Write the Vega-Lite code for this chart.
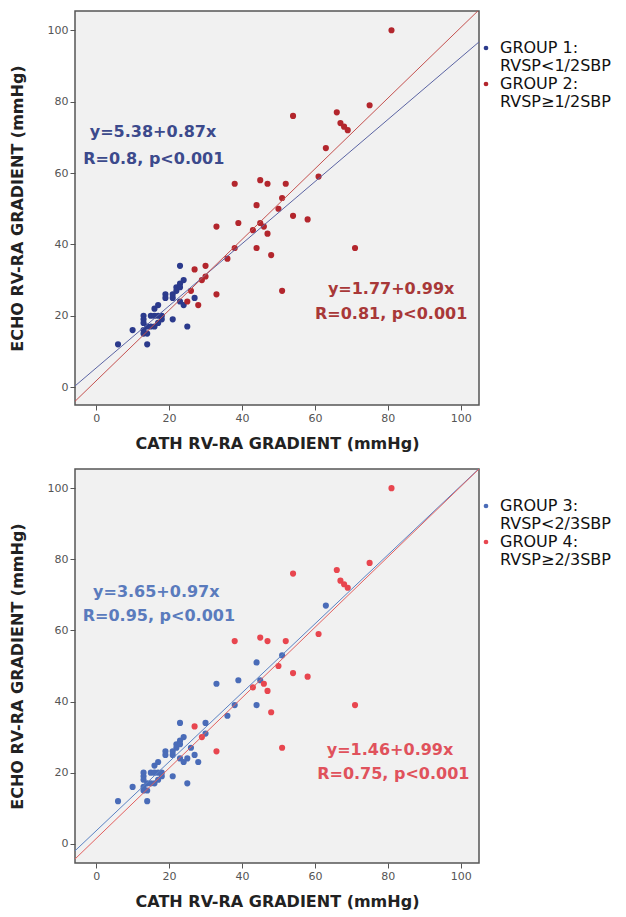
{
  "$schema": "https://vega.github.io/schema/vega-lite/v6.json",
  "background": "white",
  "padding": {"left": 8, "top": 10, "right": 0, "bottom": 0},
  "config": {
    "font": "DejaVu Sans",
    "view": {"fill": "#f1f1f1", "stroke": "#555555", "strokeWidth": 1.5},
    "axis": {
      "grid": false, "domain": false, "ticks": true, "tickSize": 5, "tickColor": "#555555",
      "labelFont": "DejaVu Sans", "labelFontSize": 11, "labelColor": "#555555",
      "titleFont": "DejaVu Sans", "titleFontSize": 16, "titleFontWeight": "bold", "titleColor": "#222222"
    },
    "legend": {"labelFont": "DejaVu Sans", "labelFontSize": 16, "labelColor": "#111111", "padding": 0}
  },
  "datasets": {
    "pts": [
      {"x": 6, "y": 12, "gt": "1", "gb": "3"},
      {"x": 14, "y": 12, "gt": "1", "gb": "3"},
      {"x": 10, "y": 16, "gt": "1", "gb": "3"},
      {"x": 13, "y": 20, "gt": "1", "gb": "3"},
      {"x": 13, "y": 19, "gt": "1", "gb": "3"},
      {"x": 13, "y": 18, "gt": "1", "gb": "3"},
      {"x": 13, "y": 16, "gt": "1", "gb": "3"},
      {"x": 13, "y": 15, "gt": "1", "gb": "3"},
      {"x": 14, "y": 15, "gt": "1", "gb": "3"},
      {"x": 14, "y": 17, "gt": "1", "gb": "3"},
      {"x": 15, "y": 17, "gt": "1", "gb": "3"},
      {"x": 15, "y": 20, "gt": "1", "gb": "3"},
      {"x": 16, "y": 17, "gt": "1", "gb": "3"},
      {"x": 16, "y": 20, "gt": "1", "gb": "3"},
      {"x": 16, "y": 22, "gt": "1", "gb": "3"},
      {"x": 17, "y": 23, "gt": "1", "gb": "3"},
      {"x": 17, "y": 20, "gt": "1", "gb": "3"},
      {"x": 17, "y": 18, "gt": "1", "gb": "3"},
      {"x": 18, "y": 20, "gt": "1", "gb": "3"},
      {"x": 18, "y": 19, "gt": "1", "gb": "3"},
      {"x": 21, "y": 19, "gt": "1", "gb": "3"},
      {"x": 19, "y": 26, "gt": "1", "gb": "3"},
      {"x": 19, "y": 25, "gt": "1", "gb": "3"},
      {"x": 21, "y": 25, "gt": "1", "gb": "3"},
      {"x": 21, "y": 26, "gt": "1", "gb": "3"},
      {"x": 22, "y": 28, "gt": "1", "gb": "3"},
      {"x": 22, "y": 27, "gt": "1", "gb": "3"},
      {"x": 23, "y": 29, "gt": "1", "gb": "3"},
      {"x": 23, "y": 28, "gt": "1", "gb": "3"},
      {"x": 24, "y": 30, "gt": "1", "gb": "3"},
      {"x": 23, "y": 34, "gt": "1", "gb": "3"},
      {"x": 23, "y": 24, "gt": "1", "gb": "3"},
      {"x": 24, "y": 23, "gt": "1", "gb": "3"},
      {"x": 25, "y": 17, "gt": "1", "gb": "3"},
      {"x": 27, "y": 25, "gt": "1", "gb": "3"},
      {"x": 25, "y": 24, "gt": "2", "gb": "3"},
      {"x": 26, "y": 27, "gt": "2", "gb": "3"},
      {"x": 28, "y": 23, "gt": "2", "gb": "3"},
      {"x": 30, "y": 34, "gt": "2", "gb": "3"},
      {"x": 30, "y": 31, "gt": "2", "gb": "3"},
      {"x": 36, "y": 36, "gt": "2", "gb": "3"},
      {"x": 38, "y": 39, "gt": "2", "gb": "3"},
      {"x": 33, "y": 45, "gt": "2", "gb": "3"},
      {"x": 39, "y": 46, "gt": "2", "gb": "3"},
      {"x": 44, "y": 51, "gt": "2", "gb": "3"},
      {"x": 51, "y": 53, "gt": "2", "gb": "3"},
      {"x": 44, "y": 39, "gt": "2", "gb": "3"},
      {"x": 45, "y": 46, "gt": "2", "gb": "3"},
      {"x": 63, "y": 67, "gt": "2", "gb": "3"},
      {"x": 27, "y": 33, "gt": "2", "gb": "4"},
      {"x": 29, "y": 30, "gt": "2", "gb": "4"},
      {"x": 33, "y": 26, "gt": "2", "gb": "4"},
      {"x": 43, "y": 44, "gt": "2", "gb": "4"},
      {"x": 46, "y": 45, "gt": "2", "gb": "4"},
      {"x": 47, "y": 43, "gt": "2", "gb": "4"},
      {"x": 50, "y": 50, "gt": "2", "gb": "4"},
      {"x": 48, "y": 37, "gt": "2", "gb": "4"},
      {"x": 54, "y": 48, "gt": "2", "gb": "4"},
      {"x": 58, "y": 47, "gt": "2", "gb": "4"},
      {"x": 71, "y": 39, "gt": "2", "gb": "4"},
      {"x": 51, "y": 27, "gt": "2", "gb": "4"},
      {"x": 38, "y": 57, "gt": "2", "gb": "4"},
      {"x": 45, "y": 58, "gt": "2", "gb": "4"},
      {"x": 47, "y": 57, "gt": "2", "gb": "4"},
      {"x": 52, "y": 57, "gt": "2", "gb": "4"},
      {"x": 61, "y": 59, "gt": "2", "gb": "4"},
      {"x": 54, "y": 76, "gt": "2", "gb": "4"},
      {"x": 66, "y": 77, "gt": "2", "gb": "4"},
      {"x": 67, "y": 74, "gt": "2", "gb": "4"},
      {"x": 68, "y": 73, "gt": "2", "gb": "4"},
      {"x": 69, "y": 72, "gt": "2", "gb": "4"},
      {"x": 75, "y": 79, "gt": "2", "gb": "4"},
      {"x": 81, "y": 100, "gt": "2", "gb": "4"}
    ],
    "lines": [
      {"g": "1", "x": -10, "y": -3.32},
      {"g": "1", "x": 110, "y": 101.08},
      {"g": "2", "x": -10, "y": -8.13},
      {"g": "2", "x": 110, "y": 110.67},
      {"g": "3", "x": -10, "y": -6.05},
      {"g": "3", "x": 110, "y": 110.35},
      {"g": "4", "x": -10, "y": -8.44},
      {"g": "4", "x": 110, "y": 110.36}
    ],
    "notes": [
      {"g": "1", "x": 15.6, "y": 71.4, "label": "y=5.38+0.87x"},
      {"g": "1", "x": 15.8, "y": 63.8, "label": "R=0.8, p<0.001"},
      {"g": "2", "x": 80.9, "y": 27.6, "label": "y=1.77+0.99x"},
      {"g": "2", "x": 80.9, "y": 20.6, "label": "R=0.81, p<0.001"},
      {"g": "3", "x": 16.5, "y": 70.7, "label": "y=3.65+0.97x"},
      {"g": "3", "x": 17.2, "y": 64.1, "label": "R=0.95, p<0.001"},
      {"g": "4", "x": 80.6, "y": 26.5, "label": "y=1.46+0.99x"},
      {"g": "4", "x": 81.5, "y": 19.5, "label": "R=0.75, p<0.001"}
    ]
  },
  "vconcat": [
    {
      "width": 404, "height": 394,
      "layer": [
        {
          "data": {"name": "pts"},
          "mark": {"type": "circle", "size": 38, "opacity": 1},
          "encoding": {
            "x": {"field": "x", "type": "quantitative", "scale": {"domain": [-5.8, 105], "nice": false, "zero": false}, "axis": {"values": [0, 20, 40, 60, 80, 100], "title": "CATH RV-RA GRADIENT (mmHg)", "titlePadding": 12}},
            "y": {"field": "y", "type": "quantitative", "scale": {"domain": [-5, 105.4], "nice": false, "zero": false}, "axis": {"values": [0, 20, 40, 60, 80, 100], "title": "ECHO RV-RA GRADIENT (mmHg)", "titlePadding": 22}},
            "color": {"field": "gt", "type": "nominal", "scale": {"domain": ["1", "2"], "range": ["#2b3a8c", "#b3262d"]},
              "legend": {"title": null, "orient": "none", "legendX": 403, "legendY": 29, "symbolSize": 22, "symbolType": "circle", "labelExpr": "datum.label == '1' ? ['GROUP 1:', 'RVSP<1/2SBP'] : ['GROUP 2:', 'RVSP≥1/2SBP']", "labelOffset": 6}}
          }
        },
        {
          "data": {"name": "lines"},
          "transform": [{"filter": "datum.g == '1'"}],
          "mark": {"type": "line", "clip": true, "strokeWidth": 1, "color": "#5b64a3"},
          "encoding": {"x": {"field": "x", "type": "quantitative"}, "y": {"field": "y", "type": "quantitative"}}
        },
        {
          "data": {"name": "lines"},
          "transform": [{"filter": "datum.g == '2'"}],
          "mark": {"type": "line", "clip": true, "strokeWidth": 1, "color": "#c4514f"},
          "encoding": {"x": {"field": "x", "type": "quantitative"}, "y": {"field": "y", "type": "quantitative"}}
        },
        {
          "data": {"name": "notes"},
          "transform": [{"filter": "datum.g == '1'"}],
          "mark": {"type": "text", "fontSize": 16, "fontWeight": "bold", "color": "#3c4a8c", "align": "center", "baseline": "middle"},
          "encoding": {"x": {"field": "x", "type": "quantitative"}, "y": {"field": "y", "type": "quantitative"}, "text": {"field": "label"}}
        },
        {
          "data": {"name": "notes"},
          "transform": [{"filter": "datum.g == '2'"}],
          "mark": {"type": "text", "fontSize": 16, "fontWeight": "bold", "color": "#a83838", "align": "center", "baseline": "middle"},
          "encoding": {"x": {"field": "x", "type": "quantitative"}, "y": {"field": "y", "type": "quantitative"}, "text": {"field": "label"}}
        }
      ]
    },
    {
      "width": 404, "height": 394,
      "layer": [
        {
          "data": {"name": "pts"},
          "mark": {"type": "circle", "size": 38, "opacity": 1},
          "encoding": {
            "x": {"field": "x", "type": "quantitative", "scale": {"domain": [-5.8, 105], "nice": false, "zero": false}, "axis": {"values": [0, 20, 40, 60, 80, 100], "title": "CATH RV-RA GRADIENT (mmHg)", "titlePadding": 12}},
            "y": {"field": "y", "type": "quantitative", "scale": {"domain": [-5.4, 105.4], "nice": false, "zero": false}, "axis": {"values": [0, 20, 40, 60, 80, 100], "title": "ECHO RV-RA GRADIENT (mmHg)", "titlePadding": 22}},
            "color": {"field": "gb", "type": "nominal", "scale": {"domain": ["3", "4"], "range": ["#4a6cb8", "#e8464f"]},
              "legend": {"title": null, "orient": "none", "legendX": 403, "legendY": 29, "symbolSize": 22, "symbolType": "circle", "labelExpr": "datum.label == '3' ? ['GROUP 3:', 'RVSP<2/3SBP'] : ['GROUP 4:', 'RVSP≥2/3SBP']", "labelOffset": 6}}
          }
        },
        {
          "data": {"name": "lines"},
          "transform": [{"filter": "datum.g == '3'"}],
          "mark": {"type": "line", "clip": true, "strokeWidth": 1, "color": "#5a80c2"},
          "encoding": {"x": {"field": "x", "type": "quantitative"}, "y": {"field": "y", "type": "quantitative"}}
        },
        {
          "data": {"name": "lines"},
          "transform": [{"filter": "datum.g == '4'"}],
          "mark": {"type": "line", "clip": true, "strokeWidth": 1, "color": "#e2605f"},
          "encoding": {"x": {"field": "x", "type": "quantitative"}, "y": {"field": "y", "type": "quantitative"}}
        },
        {
          "data": {"name": "notes"},
          "transform": [{"filter": "datum.g == '3'"}],
          "mark": {"type": "text", "fontSize": 16, "fontWeight": "bold", "color": "#5a7bbd", "align": "center", "baseline": "middle"},
          "encoding": {"x": {"field": "x", "type": "quantitative"}, "y": {"field": "y", "type": "quantitative"}, "text": {"field": "label"}}
        },
        {
          "data": {"name": "notes"},
          "transform": [{"filter": "datum.g == '4'"}],
          "mark": {"type": "text", "fontSize": 16, "fontWeight": "bold", "color": "#e0525c", "align": "center", "baseline": "middle"},
          "encoding": {"x": {"field": "x", "type": "quantitative"}, "y": {"field": "y", "type": "quantitative"}, "text": {"field": "label"}}
        }
      ]
    }
  ],
  "spacing": 16,
  "resolve": {"scale": {"color": "independent"}}
}
